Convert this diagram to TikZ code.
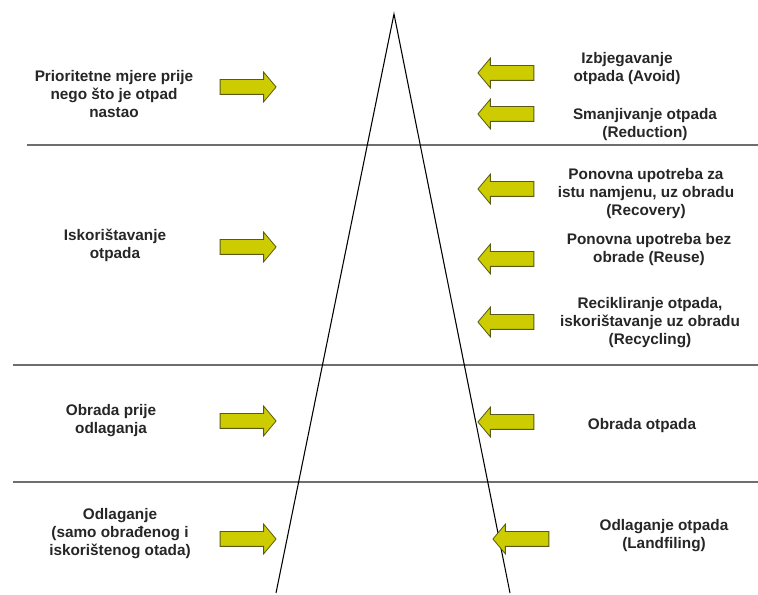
\documentclass[tikz,border=0pt]{standalone}
\usepackage{fontspec}
\setmainfont{Liberation Sans}
\usetikzlibrary{shapes.arrows}

\definecolor{arrowfill}{RGB}{204,204,0}
\definecolor{arrowline}{RGB}{90,90,20}
\definecolor{sepline}{RGB}{110,110,110}

\begin{document}
\begin{tikzpicture}[x=0.75pt,y=-0.75pt,
  label/.style={align=center,font=\fontsize{11.5}{13.5}\selectfont\bfseries,text=black!85},
  yarrow/.style={single arrow,draw=arrowline,fill=arrowfill,line width=0.6pt,
    minimum height=42pt,inner sep=5.25pt,single arrow head extend=5.6pt,
    single arrow tip angle=100},
  toright/.style={yarrow},
  toleft/.style={yarrow,shape border rotate=180}]
\useasboundingbox (0,0) rectangle (758,595);
% separators
\draw[sepline,line width=1.2pt] (27,145) -- (758,145);
\draw[sepline,line width=1.2pt] (13,365) -- (758,365);
\draw[sepline,line width=1.2pt] (13,482) -- (758,482);
% pyramid
\coordinate (top) at (394,14);
\coordinate (bl) at (276,593);
\coordinate (br) at (510,593);
\draw[line width=0.8pt] (bl) -- (top) -- (br);
% left column
\node[label] (prior) at (114,94) {Prioritetne mjere prije\\nego što je otpad\\nastao};
\node[label] (iskor) at (115,245) {Iskorištavanje\\otpada};
\node[label] (obrpr) at (111,421) {Obrada prije\\odlaganja};
\node[label] (odlag) at (120,534) {Odlaganje\\(samo obrađenog i\\iskorištenog otada)};
\node[toright] (a1) at (245,87) {};
\node[toright] (a2) at (245,247) {};
\node[toright] (a3) at (245,421) {};
\node[toright] (a4) at (245,539) {};
% right column
\node[label] (avoid) at (627,69) {Izbjegavanje\\otpada (Avoid)};
\node[label] (reduc) at (645,125) {Smanjivanje otpada\\(Reduction)};
\node[label] (recov) at (646,194) {Ponovna upotreba za\\istu namjenu, uz obradu\\(Recovery)};
\node[label] (reuse) at (649,250) {Ponovna upotreba bez\\obrade (Reuse)};
\node[label] (recyc) at (650,323) {Recikliranje otpada,\\iskorištavanje uz obradu\\(Recycling)};
\node[label] (treat) at (642,426) {Obrada otpada};
\node[label] (landf) at (664,536) {Odlaganje otpada\\(Landfiling)};
\node[toleft] (b1) at (509,73) {};
\node[toleft] (b2) at (509,114) {};
\node[toleft] (b3) at (509,189) {};
\node[toleft] (b4) at (509,259) {};
\node[toleft] (b5) at (509,322) {};
\node[toleft] (b6) at (509,422) {};
\node[toleft] (b7) at (524,539) {};
\end{tikzpicture}
\end{document}
